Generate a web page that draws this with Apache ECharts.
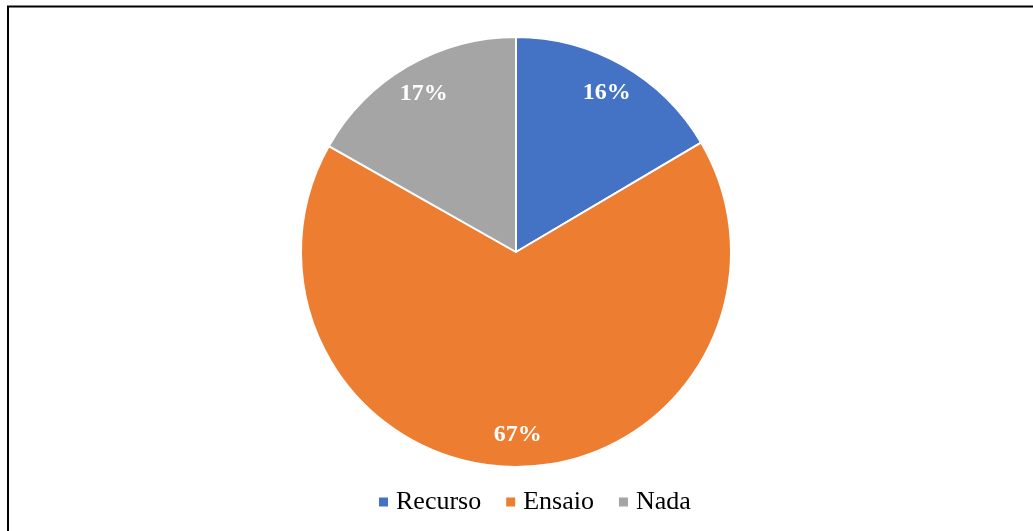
<!DOCTYPE html>
<html>
<head>
<meta charset="utf-8">
<script src="https://cdn.jsdelivr.net/npm/echarts@6/dist/echarts.min.js"></script>
<style>
  html, body { margin: 0; padding: 0; background: #fff; }
  #pie { width: 1033px; height: 531px; }
</style>
</head>
<body>
<div id="pie"></div>
<script>
// categorias e valores (percentuais)
const categories = ['Recurso', 'Ensaio', 'Nada']
const values = [16.5, 66.7, 16.8]
const colors = ['#4472C4', '#ED7D31', '#A5A5A5']

const data = categories.map((name, i) => ({
  name: name,
  value: values[i],
  itemStyle: { color: colors[i] }
}))

const chart = echarts.init(document.getElementById('pie'))

const option = {
  animation: false,
  // moldura do gráfico (só topo e esquerda aparecem no recorte)
  graphic: [
    {
      type: 'rect',
      shape: { x: 8, y: 6.5, width: 1200, height: 800 },
      style: { fill: 'none', stroke: '#000', lineWidth: 2 },
      silent: true
    }
  ],
  legend: {
    data: categories,
    bottom: 11,
    left: 372,
    icon: 'rect',
    itemWidth: 11,
    itemHeight: 11,
    itemGap: 23,
    textStyle: {
      fontFamily: 'Liberation Serif',
      fontSize: 26,
      color: '#000',
      padding: [0, 0, 0, 2]
    }
  },
  series: [
    {
      name: 'pizza',
      type: 'pie',
      center: [516, 252],
      radius: [0, 215],
      startAngle: 90,
      clockwise: true,
      label: { show: false },
      labelLine: { show: false },
      itemStyle: { borderColor: '#fff', borderWidth: 2 },
      emphasis: { disabled: true },
      data: data
    },
    {
      // série transparente apenas para posicionar os rótulos
      name: 'rotulos',
      type: 'pie',
      center: [516, 252],
      radius: [140, 220],
      startAngle: 90,
      clockwise: true,
      silent: true,
      percentPrecision: 0,
      itemStyle: { color: 'transparent' },
      emphasis: { disabled: true },
      label: {
        show: true,
        position: 'inside',
        formatter: '{d}%',
        fontFamily: 'Liberation Serif',
        fontWeight: 'bold',
        fontSize: 24,
        color: '#fff'
      },
      labelLine: { show: false },
      data: categories.map((name, i) => ({ name: name, value: values[i] }))
    }
  ]
}

chart.setOption(option)
</script>
</body>
</html>
